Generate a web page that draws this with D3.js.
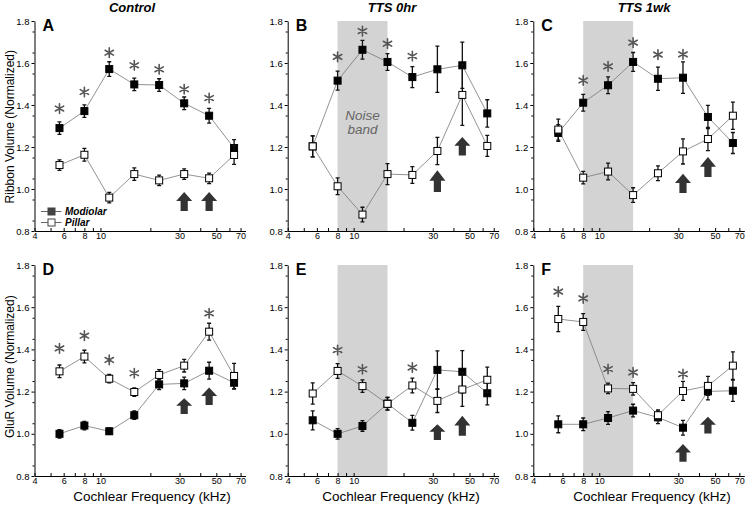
<!DOCTYPE html>
<html><head><meta charset="utf-8">
<script src="https://cdn.jsdelivr.net/npm/d3@7"></script>
<style>body{margin:0;background:#fff} svg{display:block;font-family:Arial,"Liberation Sans",sans-serif}</style>
</head><body><svg id="c" width="745" height="508"></svg>
<script>
// ---------------- data ----------------
const freqs = [5.66, 8, 11.3, 16, 22.6, 32, 45.25, 64];
const xTickVals = [4,5,6,7,8,9,10,20,30,40,50,60,70];
const xTickLabels = [4,6,8,10,30,50,70];
const yTickVals = [0.8,1.0,1.2,1.4,1.6,1.8];
const panelLetters = ["A","B","C","D","E","F"];
const colTitles = ["Control","TTS 0hr","TTS 1wk"];
const rowLabels = ["Ribbon Volume (Normalized)","GluR Volume (Normalized)"];
const xLabel = "Cochlear Frequency (kHz)";
const seriesNames = ["Modiolar","Pillar"];
const noiseBand = [8,16];
const bandText = ["Noise","band"];

// Panel A (Control, ribbons)
const modA    = [1.290,1.371,1.571,1.498,1.495,1.408,1.349,1.195];
const modAErr = [0.030,0.030,0.035,0.030,0.030,0.030,0.035,0.040];
const pilA    = [1.114,1.163,0.959,1.071,1.041,1.071,1.051,1.162];
const pilAErr = [0.025,0.030,0.025,0.030,0.025,0.025,0.025,0.045];
const starA   = [1.383,1.462,1.649,1.589,1.570,1.475,1.433,null];
const arrowA  = [[32,0.986,0.895],[45.25,0.986,0.895]];

// Panel B (TTS 0hr, ribbons)
const modB    = [1.203,1.516,1.663,1.605,1.533,1.570,1.589,1.360];
const modBErr = [0.050,0.045,0.045,0.040,0.050,0.110,0.110,0.065];
const pilB    = [1.203,1.013,0.878,1.071,1.067,1.181,1.448,1.205];
const pilBErr = [0.050,0.040,0.035,0.050,0.040,0.065,0.145,0.050];
const starB   = [null,1.629,1.752,1.692,1.633,null,null,null];
const arrowB  = [[32,1.089,0.986],[45.25,1.248,1.160]];

// Panel C (TTS 1wk, ribbons)
const modC    = [1.267,1.411,1.494,1.605,1.525,1.530,1.343,1.219];
const modCErr = [0.040,0.040,0.040,0.045,0.055,0.075,0.055,0.050];
const pilC    = [1.283,1.054,1.083,0.971,1.075,1.179,1.238,1.349];
const pilCErr = [0.050,0.030,0.040,0.035,0.035,0.060,0.055,0.065];
const starC   = [null,1.517,1.584,1.697,1.640,1.641,null,null];
const arrowC  = [[32,1.073,0.981],[45.25,1.152,1.057]];

// Panel D (Control, GluR)
const modD    = [1.000,1.039,1.012,1.088,1.234,1.239,1.299,1.242];
const modDErr = [0.020,0.020,0.015,0.020,0.025,0.030,0.040,0.030];
const pilD    = [1.296,1.366,1.261,1.198,1.279,1.323,1.484,1.274];
const pilDErr = [0.030,0.030,0.020,0.020,0.025,0.030,0.040,0.060];
const starD   = [1.405,1.465,1.350,1.287,null,null,1.571,null];
const arrowD  = [[32,1.168,1.094],[45.25,1.219,1.136]];

// Panel E (TTS 0hr, GluR)
const modE    = [1.064,1.000,1.037,1.143,1.052,1.303,1.294,1.192];
const modEErr = [0.045,0.025,0.025,0.030,0.035,0.090,0.100,0.055];
const pilE    = [1.191,1.298,1.226,1.142,1.229,1.156,1.210,1.256];
const pilEErr = [0.050,0.035,0.030,0.030,0.035,0.055,0.080,0.060];
const starE   = [null,1.397,1.306,null,1.314,null,null,null];
const arrowE  = [[32,1.045,0.971],[45.25,1.085,0.991]];

// Panel F (TTS 1wk, GluR)
const modF    = [1.045,1.045,1.075,1.110,1.078,1.029,1.201,1.204];
const modFErr = [0.040,0.030,0.030,0.030,0.030,0.035,0.040,0.050];
const pilF    = [1.544,1.530,1.215,1.213,1.088,1.203,1.227,1.323];
const pilFErr = [0.060,0.040,0.025,0.030,0.025,0.045,0.045,0.065];
const starF   = [1.674,1.642,1.307,1.291,null,1.283,null,null];
const arrowF  = [[32,0.952,0.868],[45.25,1.081,1.002]];

// ---------------- layout ----------------
const colX = [34.5, 287.7, 533.3];
const rowY = [[231,21],[476,265]];
const panels = [
  {mod:modA,modE:modAErr,pil:pilA,pilE:pilAErr,star:starA,arrows:arrowA,band:false,legend:true},
  {mod:modB,modE:modBErr,pil:pilB,pilE:pilBErr,star:starB,arrows:arrowB,band:true,bandLabel:true},
  {mod:modC,modE:modCErr,pil:pilC,pilE:pilCErr,star:starC,arrows:arrowC,band:true},
  {mod:modD,modE:modDErr,pil:pilD,pilE:pilDErr,star:starD,arrows:arrowD,band:false},
  {mod:modE,modE:modEErr,pil:pilE,pilE:pilEErr,star:starE,arrows:arrowE,band:true},
  {mod:modF,modE:modFErr,pil:pilF,pilE:pilFErr,star:starF,arrows:arrowF,band:true}
];

const svg = d3.select("#c");
const MS = 7; // marker size

function asteriskPath(r){
  let p = "";
  [90,30,150].forEach(a=>{
    const t=a*Math.PI/180, dx=r*Math.cos(t), dy=r*Math.sin(t);
    p += `M${-dx},${-dy}L${dx},${dy}`;
  });
  return p;
}

panels.forEach((P,i)=>{
  const col = i%3, row = Math.floor(i/3);
  const x0 = colX[col];
  const x = d3.scaleLog().domain([4,75]).range([x0, x0+211]);
  const y = d3.scaleLinear().domain([0.8,1.8]).range(rowY[row]);
  const g = svg.append("g");

  if(P.band){
    g.append("rect").attr("x",x(noiseBand[0])).attr("width",x(noiseBand[1])-x(noiseBand[0]))
      .attr("y",y(1.8)).attr("height",y(0.8)-y(1.8)).attr("fill","#d3d3d3");
  }
  if(P.bandLabel){
    const cx=(x(noiseBand[0])+x(noiseBand[1]))/2;
    const bt = g.append("text").attr("x",cx).attr("y",y(1.33)).attr("text-anchor","middle")
      .attr("font-size",13.5).attr("font-style","italic").attr("fill","#666");
    bt.append("tspan").attr("x",cx).attr("dy",0).text(bandText[0]);
    bt.append("tspan").attr("x",cx).attr("dy",14.5).text(bandText[1]);
  }

  // axes
  const ya = g.append("g").attr("transform",`translate(${x0},0)`)
    .call(d3.axisLeft(y).tickValues(yTickVals).tickSize(3).tickPadding(2).tickSizeOuter(0).tickFormat(d3.format(".1f")));
  ya.selectAll("text").attr("font-size",9.5).attr("font-family","Arial,Liberation Sans,sans-serif");
  g.append("g").attr("transform",`translate(${x0},0)`)
    .call(d3.axisLeft(y).tickValues(d3.range(0.85,1.8,0.1)).tickSize(2).tickSizeOuter(0).tickFormat(""))
    .select(".domain").remove();
  const xa = g.append("g").attr("transform",`translate(0,${y(0.8)})`)
    .call(d3.axisBottom(x).tickValues(xTickVals).tickSize(-3).tickPadding(2).tickSizeOuter(0)
      .tickFormat(d=>xTickLabels.includes(d)?d:""));
  xa.selectAll("text").attr("font-size",9).attr("font-family","Arial,Liberation Sans,sans-serif");

  // lines
  const line = d3.line().x((d,k)=>x(freqs[k])).y(d=>y(d));
  [P.mod,P.pil].forEach(s=>{
    g.append("path").attr("d",line(s)).attr("fill","none").attr("stroke","#777").attr("stroke-width",0.8);
  });

  // error bars + markers
  [[P.mod,P.modE,"#000"],[P.pil,P.pilE,"#fff"]].forEach(([s,e,fill])=>{
    s.forEach((v,k)=>{
      const cx=x(freqs[k]);
      g.append("path").attr("d",`M${cx},${y(v-e[k])}V${y(v+e[k])}M${cx-2},${y(v-e[k])}H${cx+2}M${cx-2},${y(v+e[k])}H${cx+2}`)
        .attr("stroke","#111").attr("stroke-width",1.3).attr("fill","none");
    });
    s.forEach((v,k)=>{
      g.append("rect").attr("x",x(freqs[k])-MS/2).attr("y",y(v)-MS/2).attr("width",MS).attr("height",MS)
        .attr("fill",fill).attr("stroke","#000").attr("stroke-width",1);
    });
  });

  // asterisks
  P.star.forEach((v,k)=>{
    if(v==null) return;
    g.append("path").attr("d",asteriskPath(4.8)).attr("transform",`translate(${x(freqs[k])},${y(v)})`)
      .attr("stroke","#555").attr("stroke-width",1.6).attr("stroke-linecap","round").attr("fill","none");
  });

  // arrows
  P.arrows.forEach(([f,top,bot])=>{
    const cx=x(f), yt=y(top), yb=y(bot), hh=(yb-yt)*0.48;
    g.append("path").attr("d",`M${cx},${yt}L${cx+8},${yt+hh}L${cx+3.6},${yt+hh}L${cx+3.6},${yb}L${cx-3.6},${yb}L${cx-3.6},${yt+hh}L${cx-8},${yt+hh}Z`)
      .attr("fill","#333");
  });

  // panel letter
  g.append("text").attr("x",x0+8).attr("y",y(1.8)+10).attr("font-size",16).attr("font-weight","bold")
    .text(panelLetters[i]);

  // legend
  if(P.legend){
    const ly=[y(0.8)-19.5, y(0.8)-8.5];
    ["#000","#fff"].forEach((fill,k)=>{
      g.append("line").attr("x1",x0+6.5).attr("x2",x0+27).attr("y1",ly[k]).attr("y2",ly[k]).attr("stroke","#666").attr("stroke-width",1);
      g.append("rect").attr("x",x0+17-MS/2).attr("y",ly[k]-MS/2).attr("width",MS).attr("height",MS)
        .attr("fill",k?"#fff":"#444").attr("stroke","#444");
      g.append("text").attr("x",x0+30.5).attr("y",ly[k]+3.5).attr("font-size",10).attr("font-weight","bold")
        .attr("font-style","italic").text(seriesNames[k]);
    });
  }
});

// titles
const titleX=[132,392,644];
colTitles.forEach((t,k)=>svg.append("text").attr("x",titleX[k]).attr("y",12).attr("text-anchor","middle")
  .attr("font-size",13).attr("font-weight","bold").attr("font-style","italic").text(t));

// y labels
const yLabCenter=[126.7,366.7];
rowLabels.forEach((t,k)=>svg.append("text").attr("transform",`translate(13.5,${yLabCenter[k]}) rotate(-90)`)
  .attr("text-anchor","middle").attr("font-size",12).text(t));

// x labels
const xLabX=[152,401,652];
xLabX.forEach(cx=>svg.append("text").attr("x",cx).attr("y",501).attr("text-anchor","middle")
  .attr("font-size",13.5).text(xLabel));
</script></body></html>
